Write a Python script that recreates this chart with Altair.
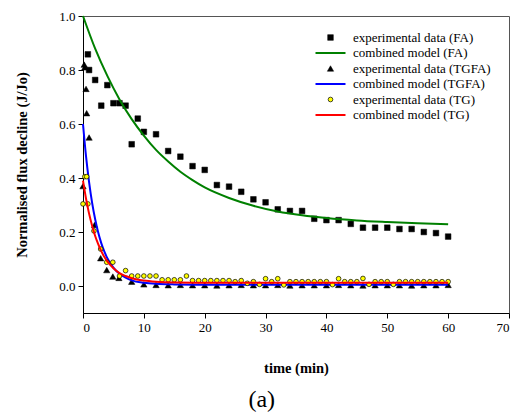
import altair as alt
import pandas as pd

# ---- data ----
fa_t = [0.8, 1, 2, 3, 4, 5, 6, 7, 8, 9, 10, 12, 14, 16, 18, 20, 22, 24, 26, 28, 30,
        32, 34, 36, 38, 40, 42, 44, 46, 48, 50, 52, 54, 56, 58, 60]
fa_v = [0.858, 0.80, 0.763, 0.668, 0.744, 0.677, 0.677, 0.668, 0.525, 0.62, 0.571,
        0.562, 0.50, 0.479, 0.444, 0.43, 0.374, 0.368, 0.349, 0.321, 0.31,
        0.284, 0.278, 0.278, 0.249, 0.244, 0.244, 0.23, 0.216, 0.216, 0.216,
        0.211, 0.211, 0.2, 0.196, 0.183]

tgfa_t = [0, 0.2, 0.3, 0.5, 0.6, 1.0, 1.9, 2.9, 3.9, 4.9, 5.9, 8,
          10, 12, 14, 16, 18, 20, 22, 24, 26, 28, 30, 32, 34, 36, 38, 40, 42, 44,
          46, 48, 50, 52, 54, 56, 58, 60]
tgfa_v = [0.37, 0.82, 0.81, 0.73, 0.64, 0.55, 0.226, 0.103, 0.059, 0.035, 0.03, 0.016,
          0.006, 0.004, 0.003, 0.004, 0.003, 0.003, 0.002, 0.003, 0.004, 0.003, 0.003,
          0.004, 0.002, 0.003, 0.003, 0.003, 0.004, 0.003, 0.002, 0.003, 0.003, 0.003,
          0.002, 0.003, 0.003, 0.004]

tg_t = [0, 0.3, 0.6, 0.8, 1.8, 2.9, 3.9, 4.9, 6, 7, 8, 9, 10, 11, 12, 13, 14, 15, 16,
        17, 18, 19, 20, 21, 22, 23, 24, 25, 26, 27, 28, 29, 30, 31, 32, 33, 34, 35,
        36, 37, 38, 39, 40, 41, 42, 43, 44, 45, 46, 47, 48, 49, 50, 51, 52, 53, 54,
        55, 56, 57, 58, 59, 60]
tg_v = [0.304, 0.405, 0.405, 0.304, 0.204, 0.137, 0.088, 0.088, 0.037, 0.057, 0.037,
        0.037, 0.037, 0.037, 0.037, 0.023, 0.023, 0.023, 0.023, 0.037, 0.020, 0.020,
        0.020, 0.020, 0.020, 0.020, 0.020, 0.016, 0.020, 0.010, 0.016, 0.006, 0.027,
        0.016, 0.027, 0.004, 0.016, 0.016, 0.016, 0.016, 0.016, 0.016, 0.016, 0.005,
        0.027, 0.016, 0.016, 0.016, 0.028, 0.006, 0.016, 0.016, 0.016, 0.006, 0.016,
        0.016, 0.016, 0.016, 0.016, 0.016, 0.016, 0.016, 0.016]

fam_t = [0, 2, 4, 6, 8, 10, 12, 14, 16, 18, 20, 24, 28, 32, 36, 40, 45, 50, 55, 60]
fam_v = [1.0, 0.879, 0.778, 0.691, 0.618, 0.557, 0.504, 0.461, 0.423, 0.392, 0.365,
         0.326, 0.297, 0.276, 0.262, 0.252, 0.243, 0.237, 0.232, 0.229]

mod_t = [0, 0.5, 1, 1.5, 2, 2.5, 3, 3.5, 4, 5, 6, 7, 8, 10, 12, 15, 20, 30, 40, 50, 60]
tgfam_v = [0.600, 0.480, 0.385, 0.308, 0.247, 0.198, 0.159, 0.128, 0.103, 0.068, 0.045,
           0.031, 0.021, 0.012, 0.008, 0.006, 0.005, 0.005, 0.005, 0.005, 0.005]
tgm_v = [0.390, 0.323, 0.268, 0.223, 0.185, 0.155, 0.129, 0.108, 0.091, 0.066, 0.048,
         0.037, 0.029, 0.020, 0.0155, 0.013, 0.012, 0.012, 0.012, 0.012, 0.012]

series = ["experimental data (FA)", "combined model (FA)",
          "experimental data (TGFA)", "combined model (TGFA)",
          "experimental data (TG)", "combined model (TG)"]

x_ticks = [0, 10, 20, 30, 40, 50, 60, 70]
y_ticks = [0.0, 0.2, 0.4, 0.6, 0.8, 1.0]


def frame(t, v, name):
    return pd.DataFrame({"t": t, "v": v, "series": name})


d_fa = frame(fa_t, fa_v, series[0])
d_fam = frame(fam_t, fam_v, series[1])
d_tgfa = frame(tgfa_t, tgfa_v, series[2])
d_tgfam = frame(mod_t, tgfam_v, series[3])
d_tg = frame(tg_t, tg_v, series[4])
d_tgm = frame(mod_t, tgm_v, series[5])

FONT = "Liberation Serif"

x_enc = alt.X("t:Q", scale=alt.Scale(domain=[0, 70], nice=False, zero=False),
              axis=alt.Axis(values=x_ticks, title="time (min)", titleY=55,
                            titleBaseline="middle", format="d"))
y_enc = alt.Y("v:Q", scale=alt.Scale(domain=[-0.1, 1.0], nice=False, zero=False),
              axis=alt.Axis(values=y_ticks, format=".1f",
                            title="Normalised flux decline (J/Jo)",
                            titleX=-61, titleBaseline="middle"))

LINE_SYM = "M-3,0H3"
leg = alt.Legend(title=None, labelFont=FONT, labelFontSize=13, labelColor="black")
shape_enc = alt.Shape("series:N", scale=alt.Scale(
    domain=series, range=["square", LINE_SYM, "triangle-up", LINE_SYM, "circle", LINE_SYM]),
    legend=leg)
fill_enc = alt.Fill("series:N", scale=alt.Scale(
    domain=series, range=["black", "transparent", "black", "transparent", "#ffff00", "transparent"]),
    legend=leg)
stroke_enc = alt.Stroke("series:N", scale=alt.Scale(
    domain=series, range=["black", "#008000", "black", "#0000ff", "black", "#ff0000"]),
    legend=leg)
size_enc = alt.Size("series:N", scale=alt.Scale(
    type="ordinal", domain=series, range=[32, 100, 40, 100, 22, 100]), legend=leg)
sw_enc = alt.StrokeWidth("series:N", scale=alt.Scale(
    type="ordinal", domain=series, range=[0.5, 2, 0.5, 2, 0.7, 2]), legend=leg)


def pts(df):
    return alt.Chart(df).mark_point(opacity=1).encode(
        x=x_enc, y=y_enc, shape=shape_enc, fill=fill_enc, stroke=stroke_enc,
        size=size_enc, strokeWidth=sw_enc)


def line(df):
    return alt.Chart(df).mark_line(interpolate="monotone").encode(
        x=x_enc, y=y_enc, stroke=stroke_enc, strokeWidth=sw_enc)


chart = alt.layer(
    pts(d_fa), line(d_fam), pts(d_tgfa), line(d_tgfam), pts(d_tg), line(d_tgm)
).properties(
    width=426, height=297,
    autosize=alt.AutoSizeParams(type="none"),
    padding={"left": 83, "top": 16, "right": 11, "bottom": 101},
    title=alt.TitleParams("(a)", orient="bottom", anchor="middle", frame="bounds",
                          font=FONT, fontSize=24, fontWeight="normal", color="black",
                          offset=13),
).configure(
    font=FONT
).configure_view(
    stroke="#555555", strokeWidth=1
).configure_axis(
    grid=False, labelFont=FONT, labelFontSize=13, labelColor="black",
    titleFont=FONT, titleFontSize=14.5, titleFontWeight="bold", titleColor="black",
    domainColor="black", tickColor="black", tickSize=5, labelPadding=3
).configure_legend(
    orient="none", legendX=241, legendY=15, padding=0, labelFont=FONT,
    labelFontSize=13, labelColor="black", rowPadding=1.5, labelOffset=16,
    symbolOpacity=1
)

chart.save("out.html", embed_options={"renderer": "svg", "actions": False})
